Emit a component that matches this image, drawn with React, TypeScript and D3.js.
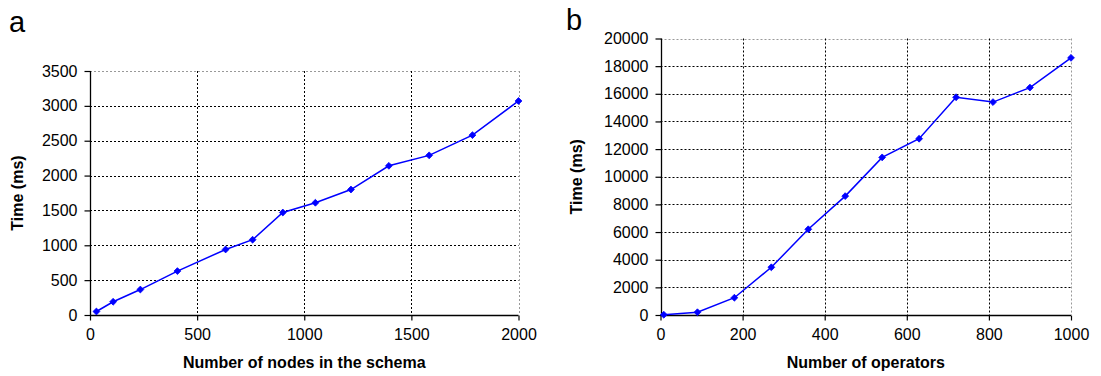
import {useEffect, useRef} from 'react';
import * as d3 from 'd3';

// panel a: schema size vs time
const nodesX = [30, 108, 235, 408, 633, 759, 900, 1052, 1218, 1395, 1583, 1785, 2000];
const nodesTime = [50, 190, 365, 630, 940, 1080, 1470, 1610, 1800, 2140, 2290, 2580, 3070];
const nodesXTicks = [0, 500, 1000, 1500, 2000];
const nodesYTicks = [0, 500, 1000, 1500, 2000, 2500, 3000, 3500];

// panel b: operators vs time
const opsX = [8, 90, 180, 270, 360, 450, 540, 630, 720, 810, 900, 1000];
const opsTime = [20, 200, 1250, 3450, 6200, 8600, 11400, 12750, 15750, 15400, 16450, 18600];
const opsXTicks = [0, 200, 400, 600, 800, 1000];
const opsYTicks = [0, 2000, 4000, 6000, 8000, 10000, 12000, 14000, 16000, 18000, 20000];

const FONT = '"Liberation Sans", Arial, Helvetica, sans-serif';

interface PanelProps {
  letter: string;
  xs: number[];
  ys: number[];
  xTicks: number[];
  yTicks: number[];
  xTitle: string;
  box: {left: number; right: number; top: number; bottom: number};
  yTitleX: number;
  letterX: number;
  letterY: number;
}

const drawPanel = (g: d3.Selection<SVGGElement, unknown, null, undefined>, p: PanelProps) => {
  const {box} = p;
  const x = d3
    .scaleLinear()
    .domain([0, d3.max(p.xTicks)!])
    .range([box.left, box.right]);
  const y = d3
    .scaleLinear()
    .domain([0, d3.max(p.yTicks)!])
    .range([box.bottom, box.top]);

  // grid
  g.append('g')
    .selectAll('line')
    .data(p.yTicks.filter((t) => t !== 0))
    .join('line')
    .attr('x1', box.left)
    .attr('x2', box.right)
    .attr('y1', (d) => Math.round(y(d)) + 0.5)
    .attr('y2', (d) => Math.round(y(d)) + 0.5)
    .attr('stroke', (d, i, n) => (i === n.length - 1 ? '#999' : '#000'))
    .attr('stroke-width', 1)
    .attr('stroke-dasharray', '2 2');

  g.append('g')
    .selectAll('line')
    .data(p.xTicks.filter((t) => t !== 0))
    .join('line')
    .attr('x1', (d) => Math.round(x(d)) + 0.5)
    .attr('x2', (d) => Math.round(x(d)) + 0.5)
    .attr('y1', box.top)
    .attr('y2', box.bottom)
    .attr('stroke', (d, i, n) => (i === n.length - 1 ? '#999' : '#000'))
    .attr('stroke-width', 1)
    .attr('stroke-dasharray', '2 2');

  // axes
  const yAxis = g
    .append('g')
    .attr('transform', `translate(${Math.round(box.left) + 0.5},0)`)
    .call(d3.axisLeft(y).tickValues(p.yTicks).tickSize(6).tickPadding(7).tickFormat(d3.format('d')));
  const xAxis = g
    .append('g')
    .attr('transform', `translate(0,${Math.round(box.bottom) + 0.5})`)
    .call(d3.axisBottom(x).tickValues(p.xTicks).tickSize(5).tickPadding(8).tickFormat(d3.format('d')));

  [xAxis, yAxis].forEach((a) => {
    a.select('.domain').attr('stroke', '#000').attr('stroke-width', 1.3);
    a.selectAll('.tick line').attr('stroke', '#000').attr('stroke-width', 1.2);
    a.selectAll('.tick text')
      .attr('fill', '#000')
      .attr('font-family', FONT)
      .attr('font-size', 16);
  });
  xAxis.select('.domain').attr('d', `M${box.left},0H${box.right}`);
  yAxis.select('.domain').attr('d', `M0,${box.bottom}V${box.top}`);

  // series
  const pts = p.xs.map((v, i) => [v, p.ys[i]] as [number, number]);
  const line = d3
    .line<[number, number]>()
    .x((d) => x(d[0]))
    .y((d) => y(d[1]));

  g.append('path')
    .datum(pts)
    .attr('fill', 'none')
    .attr('stroke', '#0000ff')
    .attr('stroke-width', 1.5)
    .attr('d', line);

  g.append('g')
    .selectAll('path')
    .data(pts)
    .join('path')
    .attr('transform', (d) => `translate(${x(d[0])},${y(d[1])})`)
    .attr('d', d3.symbol(d3.symbolDiamond2, 30)())
    .attr('fill', '#0000ff')
    .attr('stroke', '#0000ff')
    .attr('stroke-width', 0.8);

  // titles
  g.append('text')
    .attr('x', (box.left + box.right) / 2)
    .attr('y', 368)
    .attr('text-anchor', 'middle')
    .attr('font-family', FONT)
    .attr('font-weight', 'bold')
    .attr('font-size', 16)
    .text(p.xTitle);

  g.append('text')
    .attr('transform', `translate(${p.yTitleX},${(box.top + box.bottom) / 2}) rotate(-90)`)
    .attr('text-anchor', 'middle')
    .attr('dy', '0.35em')
    .attr('font-family', FONT)
    .attr('font-weight', 'bold')
    .attr('font-size', 16)
    .text('Time (ms)');

  g.append('text')
    .attr('x', p.letterX)
    .attr('y', p.letterY)
    .attr('font-family', FONT)
    .attr('font-size', 29)
    .text(p.letter);
};

const App = () => {
  const svgRef = useRef<SVGSVGElement | null>(null);

  useEffect(() => {
    if (!svgRef.current) return;
    const svg = d3.select(svgRef.current);
    svg.selectAll('*').remove();

    drawPanel(svg.append('g'), {
      letter: 'a',
      xs: nodesX,
      ys: nodesTime,
      xTicks: nodesXTicks,
      yTicks: nodesYTicks,
      xTitle: 'Number of nodes in the schema',
      box: {left: 90, right: 518.5, top: 71, bottom: 315},
      yTitleX: 17,
      letterX: 9,
      letterY: 32,
    });

    drawPanel(svg.append('g'), {
      letter: 'b',
      xs: opsX,
      ys: opsTime,
      xTicks: opsXTicks,
      yTicks: opsYTicks,
      xTitle: 'Number of operators',
      box: {left: 660.5, right: 1071, top: 38.5, bottom: 315},
      yTitleX: 576,
      letterX: 566,
      letterY: 30,
    });
  }, []);

  return (
    <svg
      ref={svgRef}
      width={1101}
      height={376}
      style={{position: 'absolute', left: 0, top: 0, background: '#fff'}}
    ></svg>
  );
};

export default App;
